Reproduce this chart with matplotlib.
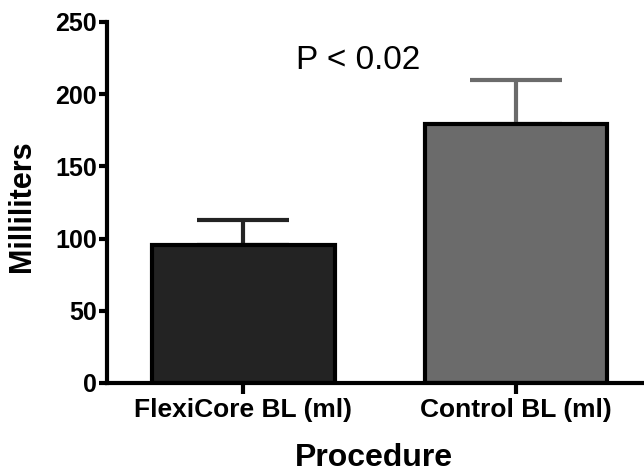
import matplotlib.pyplot as plt

# data
categories = ["FlexiCore BL (ml)", "Control BL (ml)"]
means = [95.5, 179.5]
upper_err = [17.5, 30.5]
bar_colors = ["#232323", "#6b6b6b"]
yticks = [0, 50, 100, 150, 200, 250]

plt.rcParams["font.family"] = ["Liberation Sans", "DejaVu Sans"]

fig = plt.figure(figsize=(6.44, 4.74), dpi=100)
ax = fig.add_axes([0.166, 0.192, 0.834, 0.762])

x = list(range(len(categories)))
ax.bar(x, means, width=0.67, color=bar_colors, edgecolor="black",
       linewidth=3, zorder=2)

for xi, m, e, c in zip(x, means, upper_err, bar_colors):
    ax.errorbar(xi, m, yerr=[[0], [e]], fmt="none", ecolor=c,
                elinewidth=3, capsize=33, capthick=3, zorder=1)

ax.text(0.42, 223, "P < 0.02", fontsize=24, ha="center", va="center")

ax.set_xlim(-0.5, 1.47)
ax.set_ylim(0, 250)
ax.set_yticks(yticks)
ax.set_xticks(x)
ax.set_xticklabels(categories, fontsize=19, fontweight="bold")
for lbl in ax.get_yticklabels():
    lbl.set_fontsize(18)
    lbl.set_fontweight("bold")

# axis titles placed in figure coords
fig.text(0.034, 0.565, "Milliliters", fontsize=22, fontweight="bold",
         rotation=90, ha="center", va="center")
fig.text(0.581, 0.003, "Procedure", fontsize=23, fontweight="bold",
         ha="center", va="bottom")

ax.spines["top"].set_visible(False)
ax.spines["right"].set_visible(False)
ax.spines["left"].set_linewidth(3)
ax.spines["bottom"].set_linewidth(3)
ax.tick_params(axis="y", length=6, width=3, pad=1)
ax.tick_params(axis="x", length=8, width=3, pad=3)

fig.savefig("out.png", dpi=100)
